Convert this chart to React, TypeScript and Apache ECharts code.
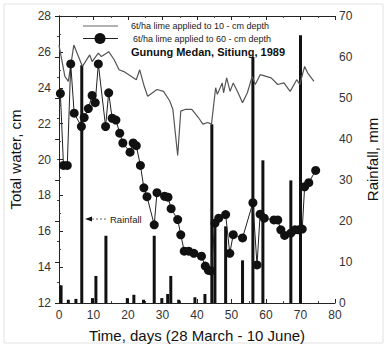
import React, { useEffect, useRef } from "react";
import * as echarts from "echarts";

const dotDays = [0.4, 1.3, 2.4, 3.4, 4.4, 6.5, 7.3, 8.5, 9.6, 10.5, 11.4, 13.5, 14.4, 15.4, 16.5, 17.6, 18.5, 20.6, 21.5, 22.4, 23.6, 24.6, 25.5, 27.6, 28.4, 30.6, 31.6, 32.5, 34.4, 35.3, 36.3, 37.6, 39.1, 41.3, 42.4, 43.3, 44.1, 45.2, 46.3, 48.3, 49.5, 50.5, 53.2, 56.2, 57.4, 58.3, 59.5, 62.3, 63.4, 64.3, 65.4, 67.2, 68.4, 69.5, 70.5, 71.2, 72.4, 74.4];
const dotVals = [23.68, 19.67, 19.67, 25.33, 22.58, 21.84, 22.34, 22.84, 23.57, 23.17, 25.33, 21.84, 23.72, 22.3, 22.2, 21.47, 20.92, 20.41, 20.92, 20.77, 19.67, 18.42, 17.93, 16.36, 18.15, 17.95, 17.9, 17.26, 16.65, 15.8, 14.89, 14.89, 14.77, 14.61, 14.06, 13.82, 13.79, 16.45, 16.73, 16.93, 14.77, 15.81, 15.63, 17.59, 14.12, 16.95, 16.73, 16.63, 16.63, 16.08, 15.77, 15.9, 16.08, 16.08, 16.12, 18.48, 18.71, 19.39];

const lineDays = [0, 1.7, 2.7, 4.3, 6.8, 8.9, 9.6, 11.4, 12.3, 14.4, 16, 17.4, 18.8, 21, 22.4, 23.4, 24.7, 25.7, 28.4, 30.3, 32.1, 33, 34.4, 35.3, 36.7, 38.5, 40.4, 41.7, 43.1, 44.2, 45.4, 45.9, 47.3, 47.7, 48.6, 49.6, 50.5, 51.9, 53.2, 54.6, 56, 56.9, 58.3, 61.5, 63.4, 65.2, 67, 68.9, 69.8, 71.2, 72.1, 73.9];
const lineVals = [26.38, 24.63, 24.36, 26.38, 25.19, 25.83, 25.46, 25.93, 25.74, 26.01, 25.56, 25.0, 24.9, 24.63, 24.45, 25.0, 24.08, 23.53, 23.9, 23.8, 23.26, 22.8, 20.22, 22.7, 22.8, 22.8, 22.34, 21.97, 22.06, 21.97, 24.0, 23.63, 24.27, 23.72, 24.55, 23.8, 24.27, 23.72, 23.17, 23.72, 24.63, 24.18, 24.73, 24.55, 24.18, 24.27, 23.8, 24.45, 24.18, 25.19, 24.82, 24.36];

const rainDays = [0.6, 2.7, 4.9, 6.6, 9.7, 10.7, 13.6, 19.8, 21.7, 24.5, 27.6, 29.8, 31.5, 32.4, 34.7, 39.4, 42.3, 44.3, 45.2, 48.3, 53.2, 56.2, 59.1, 67.2, 70.0];
const rainVals = [4.3, 0.8, 1.0, 58, 1.2, 6.6, 16.4, 1.2, 2.0, 0.8, 16.4, 1.2, 2.2, 6.6, 0.8, 1.4, 2.2, 43.6, 20, 18.7, 10.4, 60, 34.8, 29.9, 65.3];

const legendLabels = [
  "6t/ha lime applied to 10 - cm depth",
  "6t/ha lime applied to 60 - cm depth",
  "Gunung Medan, Sitiung, 1989",
];

const FONT = "Liberation Sans, Arial, sans-serif";

export default function App() {
  const ref = useRef<HTMLDivElement>(null);
  useEffect(() => {
    if (!ref.current) return;
    const chart = echarts.init(ref.current, undefined, { renderer: "svg" });
    const axisLine = { show: true, lineStyle: { color: "#222", width: 1 } };
    const tick = { show: true, inside: true, length: 4, lineStyle: { color: "#222" } };
    const minor = { show: true, splitNumber: 2, length: 2, lineStyle: { color: "#444" } };
    const label = { color: "#333", fontSize: 12, fontFamily: FONT };
    chart.setOption({
      animation: false,
      backgroundColor: "#fff",
      grid: { left: 56, right: 41, top: 16, bottom: 42, containLabel: false },
      xAxis: [
        {
          type: "value", min: 0, max: 80, interval: 10, position: "bottom",
          axisLine, axisTick: tick, minorTick: minor, splitLine: { show: false },
          axisLabel: { ...label, margin: 6 },
          name: "Time, days (28 March - 10 June)", nameLocation: "middle", nameGap: 25,
          nameTextStyle: { fontSize: 15, color: "#111", fontFamily: FONT },
        },
        {
          type: "value", min: 0, max: 80, interval: 10, position: "top",
          axisLine, axisTick: tick, minorTick: minor, splitLine: { show: false },
          axisLabel: { show: false },
        },
      ],
      yAxis: [
        {
          type: "value", min: 12, max: 28, interval: 2, position: "left",
          axisLine, axisTick: tick, minorTick: minor, splitLine: { show: false },
          axisLabel: { ...label, margin: 8 },
          name: "Total water, cm", nameLocation: "middle", nameGap: 36,
          nameTextStyle: { fontSize: 15, color: "#111", fontFamily: FONT },
        },
        {
          type: "value", min: 0, max: 70, interval: 10, position: "right",
          axisLine, axisTick: tick, minorTick: minor, splitLine: { show: false },
          axisLabel: { ...label, margin: 4 },
          name: "Rainfall, mm", nameLocation: "middle", nameGap: 30,
          nameTextStyle: { fontSize: 15, color: "#111", fontFamily: FONT },
        },
      ],
      series: [
        {
          type: "bar", xAxisIndex: 0, yAxisIndex: 1, barWidth: 3,
          itemStyle: { color: "#111" },
          data: rainDays.map((d, i) => [d, rainVals[i]]),
          z: 1,
        },
        {
          type: "line", xAxisIndex: 0, yAxisIndex: 0, showSymbol: false, symbol: "none",
          lineStyle: { color: "#555", width: 1.2 },
          data: lineDays.map((d, i) => [d, lineVals[i]]),
          z: 2,
        },
        {
          type: "line", xAxisIndex: 0, yAxisIndex: 0, symbol: "circle", symbolSize: 9,
          itemStyle: { color: "#111" },
          lineStyle: { color: "#222", width: 1 },
          data: dotDays.map((d, i) => [d, dotVals[i]]),
          z: 3,
        },
      ],
      graphic: [
        { type: "rect", shape: { x: 4, y: 4, width: 379, height: 339 }, style: { fill: "none", stroke: "#e2e2e2", lineWidth: 1 } },
        { type: "line", shape: { x1: 83, y1: 26, x2: 118, y2: 26 }, style: { stroke: "#666", lineWidth: 1.2 } },
        { type: "line", shape: { x1: 83, y1: 38.5, x2: 118, y2: 38.5 }, style: { stroke: "#222", lineWidth: 1 } },
        { type: "circle", shape: { cx: 100, cy: 38.5, r: 5.5 }, style: { fill: "#111" } },
        { type: "text", x: 131, y: 26, style: { text: legendLabels[0], fontSize: 9, fontFamily: FONT, fill: "#222", verticalAlign: "middle" } },
        { type: "text", x: 133, y: 38.5, style: { text: legendLabels[1], fontSize: 9, fontFamily: FONT, fill: "#222", verticalAlign: "middle" } },
        { type: "text", x: 131, y: 52, style: { text: legendLabels[2], fontSize: 11, fontWeight: "bold", fontFamily: FONT, fill: "#111", verticalAlign: "middle" } },
        { type: "polygon", shape: { points: [[85, 219], [92, 216.5], [92, 221.5]] }, style: { fill: "#111" } },
        { type: "line", shape: { x1: 92, y1: 219, x2: 108, y2: 219 }, style: { stroke: "#666", lineWidth: 1, lineDash: [2, 2] } },
        { type: "text", x: 110, y: 219, style: { text: "Rainfall", fontSize: 9.5, fontFamily: FONT, fill: "#222", verticalAlign: "middle" } },
      ],
    });
    return () => chart.dispose();
  }, []);
  return <div ref={ref} style={{ position: "absolute", left: 0, top: 0, width: 388, height: 348 }} />;
}
